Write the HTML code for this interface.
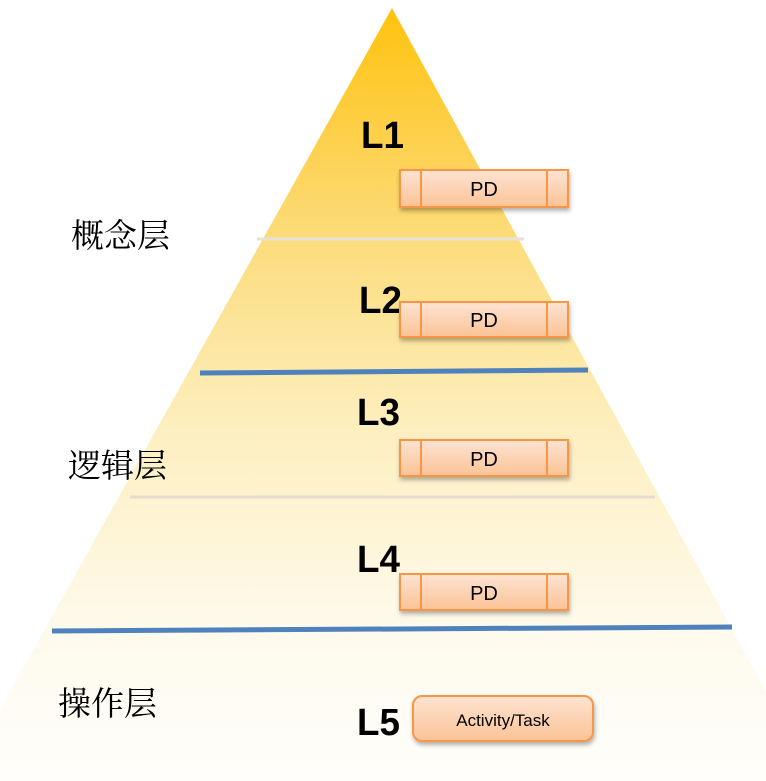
<!DOCTYPE html>
<html><head><meta charset="utf-8"><style>
html,body{margin:0;padding:0;background:#fff;}
svg{display:block}
</style></head><body>
<svg width="766" height="781" viewBox="0 0 766 781" xmlns="http://www.w3.org/2000/svg">
<defs>
<linearGradient id="tri" x1="0" y1="0" x2="0" y2="1">
<stop offset="0" stop-color="#ffc20e"/>
<stop offset="0.3" stop-color="#fcdc7c"/>
<stop offset="0.55" stop-color="#fdefc0"/>
<stop offset="0.8" stop-color="#fefaec"/>
<stop offset="1" stop-color="#fffefb"/>
</linearGradient>
<linearGradient id="box" x1="0" y1="0" x2="0" y2="1">
<stop offset="0" stop-color="#fde3d2"/>
<stop offset="1" stop-color="#fbc396"/>
</linearGradient>
<filter id="sh" x="-10%" y="-20%" width="130%" height="160%"><feDropShadow dx="1" dy="3" stdDeviation="2" flood-color="#000" flood-opacity="0.3"/></filter>
</defs>
<polygon points="392,8 -40,781 815,781" fill="url(#tri)"/>
<line x1="257" y1="239" x2="524" y2="239" stroke="#e6e2d6" stroke-width="3"/>
<line x1="200" y1="373" x2="588" y2="370" stroke="#4f81bd" stroke-width="5"/>
<line x1="130" y1="497" x2="655" y2="497" stroke="#e2ddcc" stroke-width="3"/>
<line x1="52" y1="631" x2="732" y2="627" stroke="#4f81bd" stroke-width="5"/>
<g font-family="Liberation Sans, sans-serif" font-weight="bold" font-size="38" fill="#000">
<text x="361" y="148" textLength="43" lengthAdjust="spacingAndGlyphs">L1</text>
<text x="359" y="313" textLength="43" lengthAdjust="spacingAndGlyphs">L2</text>
<text x="357" y="425" textLength="43" lengthAdjust="spacingAndGlyphs">L3</text>
<text x="357" y="572" textLength="43" lengthAdjust="spacingAndGlyphs">L4</text>
<text x="357" y="735" textLength="43" lengthAdjust="spacingAndGlyphs">L5</text>
</g>
<g font-family="Noto Serif CJK SC, serif" font-size="33" fill="#000">
<text x="71" y="247">概念层</text>
<text x="68" y="477">逻辑层</text>
<text x="58" y="715">操作层</text>
</g>
<g filter="url(#sh)" stroke="#f79646" stroke-width="2" fill="url(#box)">
<rect x="400" y="170" width="168" height="37"/>
<rect x="400" y="302" width="168" height="35"/>
<rect x="400" y="440" width="168" height="36"/>
<rect x="400" y="574" width="168" height="36"/>
<rect x="413" y="696" width="180" height="45" rx="9"/>
</g>
<g stroke="#f79646" stroke-width="2">
<line x1="421" y1="170" x2="421" y2="207"/><line x1="547" y1="170" x2="547" y2="207"/>
<line x1="421" y1="302" x2="421" y2="337"/><line x1="547" y1="302" x2="547" y2="337"/>
<line x1="421" y1="440" x2="421" y2="476"/><line x1="547" y1="440" x2="547" y2="476"/>
<line x1="421" y1="574" x2="421" y2="610"/><line x1="547" y1="574" x2="547" y2="610"/>
</g>
<g font-family="Liberation Sans, sans-serif" font-size="20" fill="#000" text-anchor="middle">
<text x="484" y="196">PD</text>
<text x="484" y="327">PD</text>
<text x="484" y="466">PD</text>
<text x="484" y="600">PD</text>
<text x="503" y="726" font-size="17">Activity/Task</text>
</g>
</svg>
</body></html>
